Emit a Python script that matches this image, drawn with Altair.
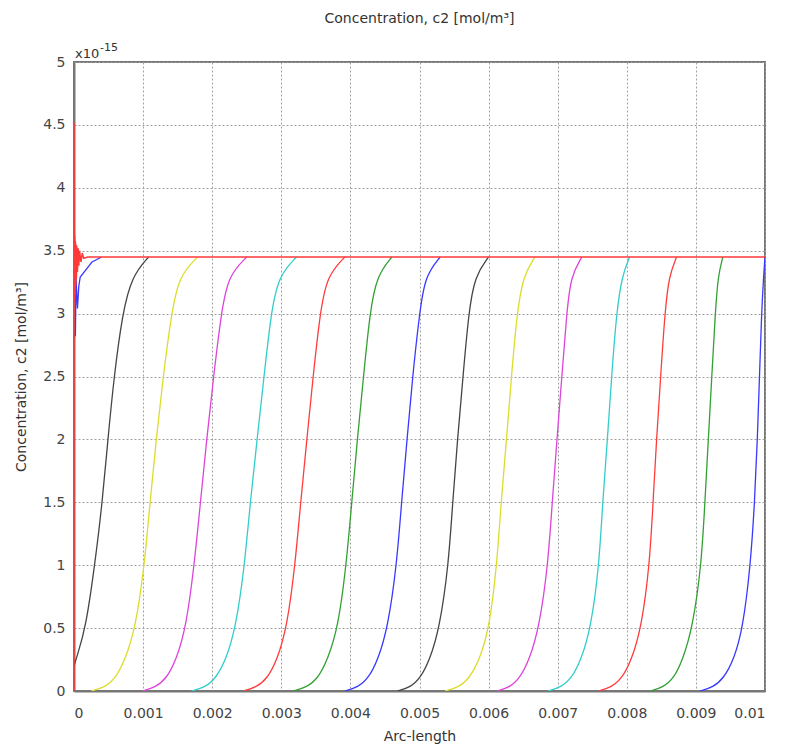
import altair as alt
import pandas as pd

# concentration levels (in units of 1e-15 mol/m^3) at which each front's arc-length was read
levels = [0, 0.03, 0.1, 0.25, 0.5, 1.0, 1.5, 2.0, 2.5, 3.0, 3.3, 3.45]

# arc-length positions of each travelling front at the levels above
fronts = {
    "yellow1":  [0.00025, 0.00045, 0.00060, 0.00074, 0.00089, 0.00102, 0.00110, 0.00119, 0.00129, 0.00141, 0.00152, 0.00179],
    "magenta1": [0.00099, 0.00118, 0.00134, 0.00148, 0.00162, 0.00174, 0.00183, 0.00192, 0.00202, 0.00213, 0.00223, 0.00250],
    "cyan1":    [0.00170, 0.00190, 0.00205, 0.00220, 0.00234, 0.00247, 0.00255, 0.00265, 0.00275, 0.00285, 0.00296, 0.00322],
    "red1":     [0.00245, 0.00264, 0.00280, 0.00294, 0.00308, 0.00320, 0.00328, 0.00337, 0.00346, 0.00356, 0.00366, 0.00392],
    "green1":   [0.00317, 0.00337, 0.00353, 0.00367, 0.00382, 0.00394, 0.00402, 0.00410, 0.00419, 0.00428, 0.00438, 0.00460],
    "blue1":    [0.00392, 0.00411, 0.00426, 0.00440, 0.00454, 0.00467, 0.00474, 0.00482, 0.00490, 0.00500, 0.00508, 0.00530],
    "black2":   [0.00468, 0.00487, 0.00501, 0.00515, 0.00529, 0.00542, 0.00548, 0.00555, 0.00563, 0.00571, 0.00580, 0.00600],
    "yellow2":  [0.00537, 0.00557, 0.00572, 0.00587, 0.00601, 0.00612, 0.00618, 0.00626, 0.00633, 0.00641, 0.00650, 0.00667],
    "magenta2": [0.00612, 0.00631, 0.00645, 0.00659, 0.00673, 0.00686, 0.00692, 0.00699, 0.00706, 0.00713, 0.00719, 0.00735],
    "cyan2":    [0.00686, 0.00705, 0.00720, 0.00734, 0.00748, 0.00760, 0.00765, 0.00772, 0.00778, 0.00785, 0.00793, 0.00804],
    "red2":     [0.00759, 0.00778, 0.00793, 0.00807, 0.00821, 0.00833, 0.00838, 0.00843, 0.00849, 0.00855, 0.00861, 0.00872],
    "green2":   [0.00834, 0.00853, 0.00868, 0.00881, 0.00895, 0.00908, 0.00913, 0.00918, 0.00923, 0.00928, 0.00932, 0.00939],
    "blue2":    [0.00906, 0.00925, 0.00940, 0.00955, 0.00968, 0.00979, 0.00985, 0.00989, 0.00992, 0.00995, 0.00998, 0.01000],
}
front_colors = {
    "yellow1": "#dcdc2c", "magenta1": "#dc44dc", "cyan1": "#33cccc", "red1": "#ff3c3c",
    "green1": "#33a033", "blue1": "#3838ff", "black2": "#454545", "yellow2": "#dcdc2c",
    "magenta2": "#dc44dc", "cyan2": "#33cccc", "red2": "#ff3c3c", "green2": "#33a033",
    "blue2": "#3838ff",
}

# first (diffuse) black front, starting above zero at the boundary
black1_x = [0.0, 0.00004, 0.00017, 0.00030, 0.00041, 0.00049, 0.00058, 0.00070, 0.00084, 0.00108]
black1_y = [0.20, 0.27, 0.50, 1.00, 1.50, 2.00, 2.50, 3.00, 3.30, 3.45]

# early blue curve hugging the boundary
blue0_x = [0.00002, 0.00003, 0.00005, 0.00007, 0.00009, 0.00016, 0.00026, 0.00040]
blue0_y = [2.82, 3.28, 3.04, 3.22, 3.29, 3.34, 3.41, 3.45]

# red curve: spike at the boundary, noisy band, then flat plateau
red_x = [0.0, 0.0, 0.000005, 0.00001, 0.000015, 0.00002, 0.000025, 0.00003, 0.000035, 0.00004,
         0.00005, 0.00006, 0.00007, 0.00008, 0.0001, 0.00012, 0.00014, 0.0002, 0.01]
red_y = [0.0, 4.52, 3.10, 3.62, 3.15, 3.58, 3.22, 3.55, 3.28, 3.54,
         3.33, 3.52, 3.38, 3.50, 3.41, 3.48, 3.44, 3.45, 3.45]

x_ticks = [0, 0.001, 0.002, 0.003, 0.004, 0.005, 0.006, 0.007, 0.008, 0.009, 0.01]
y_ticks = [0, 0.5, 1, 1.5, 2, 2.5, 3, 3.5, 4, 4.5, 5]

rows = []
for name, xs in fronts.items():
    for i, (xv, yv) in enumerate(zip(xs, levels)):
        rows.append({"curve": name, "i": i, "x": xv, "y": yv, "col": front_colors[name]})
for i, (xv, yv) in enumerate(zip(black1_x, black1_y)):
    rows.append({"curve": "black1", "i": i, "x": xv, "y": yv, "col": "#454545"})
df = pd.DataFrame(rows)
blue0_df = pd.DataFrame({"i": list(range(len(blue0_x))), "x": blue0_x, "y": blue0_y})
red_df = pd.DataFrame({"i": list(range(len(red_x))), "x": red_x, "y": red_y})

FONT = "DejaVu Sans"

x_enc = alt.X("x:Q", scale=alt.Scale(domain=[0, 0.01], nice=False),
              axis=alt.Axis(values=x_ticks, labelExpr="format(datum.value, '~g')",
                            title="Arc-length", grid=True, labelPadding=15, titlePadding=9))
y_enc = alt.Y("y:Q", scale=alt.Scale(domain=[0, 5], nice=False),
              axis=alt.Axis(values=y_ticks, labelExpr="format(datum.value, '~g')",
                            title="Concentration, c2 [mol/m³]", grid=True,
                            labelPadding=9, titlePadding=14))

fronts_layer = alt.Chart(df).mark_line(strokeWidth=1.3, clip=True, interpolate="basis").encode(
    x=x_enc, y=y_enc,
    detail="curve:N",
    order="i:Q",
    color=alt.Color("col:N", scale=None),
)

blue0_layer = alt.Chart(blue0_df).mark_line(strokeWidth=1.3, color="#3838ff", clip=True).encode(
    x="x:Q", y="y:Q", order="i:Q"
)

red_layer = alt.Chart(red_df).mark_line(strokeWidth=1.5, color="#ff3838", clip=True).encode(
    x="x:Q", y="y:Q", order="i:Q"
)

exp_df = pd.DataFrame({"x": [0.0], "y": [5.0]})
exp_base = alt.Chart(exp_df).mark_text(align="left", baseline="bottom", font=FONT,
                                       fontSize=13, color="#333333", dx=1, dy=-1, text="x10")
exp_sup = alt.Chart(exp_df).mark_text(align="left", baseline="bottom", font=FONT,
                                      fontSize=11, color="#333333", dx=26, dy=-9, text="-15")

chart = alt.layer(
    fronts_layer, blue0_layer, red_layer,
    exp_base.encode(x="x:Q", y="y:Q"),
    exp_sup.encode(x="x:Q", y="y:Q"),
).properties(
    width=691, height=629,
    title=alt.Title("Concentration, c2 [mol/m³]", font=FONT, fontSize=14,
                    fontWeight="normal", color="#333333", offset=16),
    padding={"left": 6, "top": 4, "right": 15, "bottom": 2},
).configure_view(
    stroke="#777777", strokeWidth=2
).configure_axis(
    labelFont=FONT, labelFontSize=14, labelColor="#444444",
    titleFont=FONT, titleFontSize=14, titleFontWeight="normal", titleColor="#333333",
    gridColor="#a0a0a0", gridDash=[2, 2], gridWidth=1, gridOpacity=1,
    domainColor="#777777", domainWidth=2, ticks=False,
)

chart.save("out.html", embed_options={"renderer": "svg", "actions": False})
